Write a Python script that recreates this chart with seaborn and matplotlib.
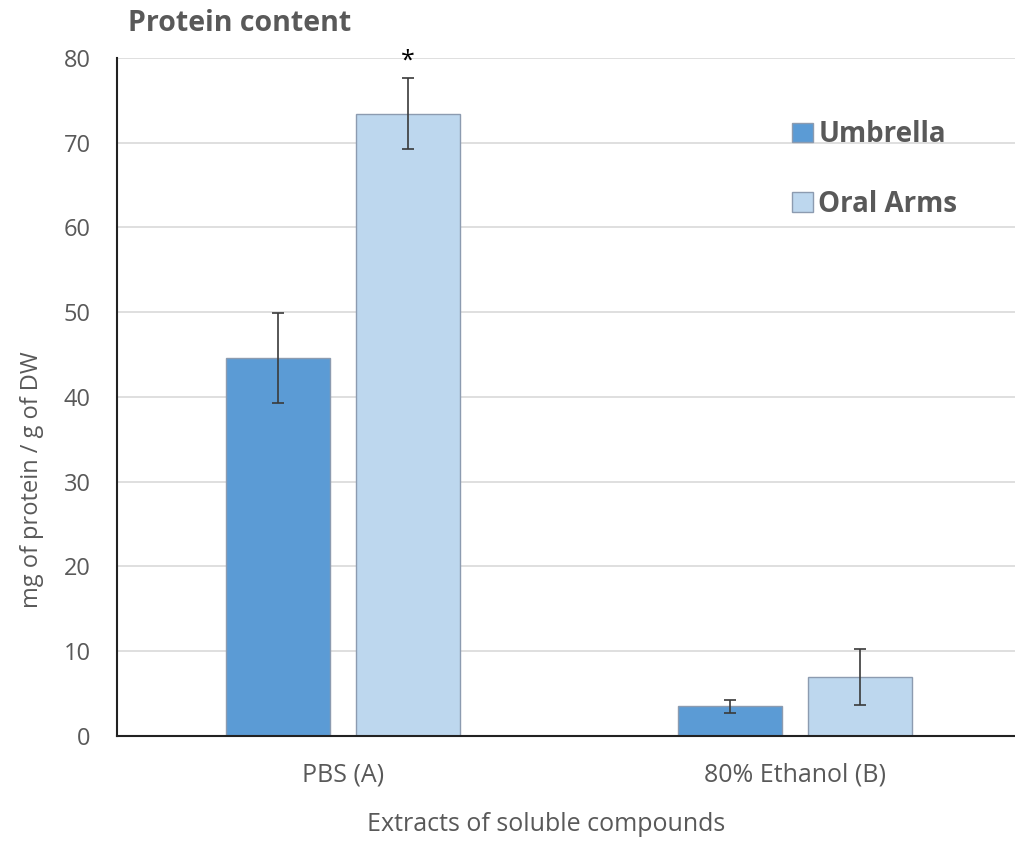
import matplotlib
matplotlib.use("Agg")
import matplotlib.pyplot as plt
import seaborn as sns
import pandas as pd
import numpy as np

categories = ["PBS (A)", "80% Ethanol (B)"]
series = ["Umbrella", "Oral Arms"]
umbrella_vals = [44.6, 3.5]
umbrella_err = [5.3, 0.8]
oral_vals = [73.4, 7.0]
oral_err = [4.2, 3.3]
yticks = [0, 10, 20, 30, 40, 50, 60, 70, 80]

df = pd.DataFrame({
    "Extract": categories * 2,
    "Part": [series[0]] * 2 + [series[1]] * 2,
    "Value": umbrella_vals + oral_vals,
})
errs = {series[0]: umbrella_err, series[1]: oral_err}

sns.set_theme(style="white")
plt.rcParams['font.family'] = ['Open Sans', 'DejaVu Sans']

fig = plt.figure(figsize=(10.15, 8.41), dpi=100)
ax = fig.add_axes([0.1153, 0.1249, 0.8906, 0.8062])

colors = {"Umbrella": "#5B9BD5", "Oral Arms": "#BDD7EE"}
sns.barplot(data=df, x="Extract", y="Value", hue="Part", order=categories,
            hue_order=series, palette=colors, saturation=1, width=0.575, gap=0.2,
            edgecolor="#8C9BB0", linewidth=1.0, ax=ax, legend=True)

for cont, s in zip(ax.containers, series):
    xs = [p.get_x() + p.get_width() / 2 for p in cont.patches]
    hs = [p.get_height() for p in cont.patches]
    ax.errorbar(xs, hs, yerr=errs[s], fmt="none", ecolor="#3A3A3A",
                elinewidth=1.2, capsize=4.5, capthick=1.2, zorder=5)

# asterisk above Oral Arms PBS
p = ax.containers[1].patches[0]
ax.text(p.get_x() + p.get_width() / 2, oral_vals[0] + oral_err[0] + 0.5, "*",
        ha="center", va="bottom", fontsize=18, color="black")

ax.set_ylim(0, 80)
ax.set_xlim(-0.5, 1.5)
ax.set_yticks(yticks)
ax.yaxis.grid(True, color="#D9D9D9", linewidth=1.2)
ax.set_axisbelow(True)
for side in ["top", "right"]:
    ax.spines[side].set_visible(False)
ax.spines["left"].set_color("#222222")
ax.spines["left"].set_linewidth(1.5)
ax.spines["bottom"].set_color("#222222")
ax.spines["bottom"].set_linewidth(1.5)
ax.tick_params(axis="both", length=0, colors="#595959")
ax.tick_params(axis="y", pad=19, labelsize=17)
ax.tick_params(axis="x", pad=19, labelsize=18)

ax.set_xlabel("Extracts of soluble compounds", fontsize=18, color="#595959")
ax.xaxis.set_label_coords(0.4746, -0.112)
ax.set_ylabel("mg of protein / g of DW", fontsize=17, color="#595959")
ax.yaxis.set_label_coords(-0.081, 0.378)

fig.text(0.126, 0.972, "Protein content", fontsize=20.5, fontweight="bold",
         color="#595959", ha="left", va="center")

leg = ax.legend(loc="upper left", bbox_to_anchor=(0.719, 0.945), frameon=False,
                fontsize=20, handlelength=0.75, handleheight=0.7,
                handletextpad=0.2, labelspacing=1.45)
for t in leg.get_texts():
    t.set_fontweight("bold")
    t.set_color("#595959")

fig.savefig("out.png", dpi=100)
